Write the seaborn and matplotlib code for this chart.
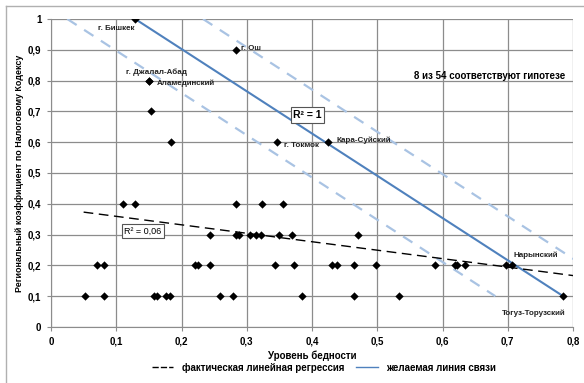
import numpy as np
import pandas as pd
import matplotlib
matplotlib.use("Agg")
import matplotlib.pyplot as plt
from matplotlib.ticker import FuncFormatter, MultipleLocator
from matplotlib.lines import Line2D
import seaborn as sns

# poverty level (x) and regional tax coefficient (y)
poverty = [0.129, 0.284, 0.150, 0.150, 0.153, 0.184, 0.347, 0.424,
           0.110, 0.128, 0.283, 0.323, 0.355,
           0.243, 0.283, 0.288, 0.305, 0.314, 0.322, 0.349, 0.369, 0.470,
           0.070, 0.081, 0.220, 0.226, 0.243, 0.344, 0.372, 0.430, 0.439,
           0.465, 0.498, 0.588, 0.619, 0.622, 0.634, 0.697, 0.707,
           0.052, 0.081, 0.158, 0.162, 0.177, 0.182, 0.259, 0.279, 0.385,
           0.465, 0.533, 0.785]
coef = [1.0, 0.9, 0.8, 0.8, 0.7, 0.6, 0.6, 0.6,
        0.4, 0.4, 0.4, 0.4, 0.4,
        0.3, 0.3, 0.3, 0.3, 0.3, 0.3, 0.3, 0.3, 0.3,
        0.2, 0.2, 0.2, 0.2, 0.2, 0.2, 0.2, 0.2, 0.2,
        0.2, 0.2, 0.2, 0.2, 0.2, 0.2, 0.2, 0.2,
        0.1, 0.1, 0.1, 0.1, 0.1, 0.1, 0.1, 0.1, 0.1,
        0.1, 0.1, 0.1]

# fitted regression line (endpoints)
reg_x = [0.05, 0.8]
reg_y = [0.373, 0.167]

# desired relationship line and its band
want_x = [0.129, 0.785]
want_y = [1.0, 0.1]
band_shift = 0.104

# labelled districts: (text, x, y, ha, va)
labels = [
    ("г. Бишкек", 0.128, 0.968, "right", "center"),
    ("г. Ош", 0.291, 0.905, "left", "center"),
    ("г. Джалал-Абад", 0.161, 0.827, "center", "center"),
    ("Аламединский", 0.162, 0.79, "left", "center"),
    ("г. Токмок", 0.357, 0.59, "left", "center"),
    ("Кара-Суйский", 0.438, 0.605, "left", "center"),
    ("Нарынский", 0.743, 0.233, "center", "center"),
    ("Тогуз-Торузский", 0.74, 0.043, "center", "center"),
]

df = pd.DataFrame({"poverty": poverty, "coef": coef})

plt.rcParams['font.family'] = ['Liberation Sans', 'DejaVu Sans']
fig = plt.figure(figsize=(5.84, 3.83), dpi=100)
ax = fig.add_axes([51 / 584, 1 - 327 / 383, 522 / 584, 308 / 383])

# desired line band
wx = np.array(want_x)
for s in (-band_shift, band_shift):
    ax.plot(wx + s, want_y, color="#a9c3e3", lw=1.6, ls=(0, (5, 4)), zorder=2)
ax.plot(want_x, want_y, color="#4f81bd", lw=1.5, zorder=3)
ax.plot(reg_x, reg_y, color="black", lw=1.0, ls=(0, (7, 4)), zorder=3)

sns.scatterplot(data=df, x="poverty", y="coef", marker="D", color="black",
                s=18, edgecolor="black", linewidth=0, ax=ax, zorder=4)

ax.set_xlim(0, 0.8)
ax.set_ylim(0, 1.0)
ax.xaxis.set_major_locator(MultipleLocator(0.1))
ax.yaxis.set_major_locator(MultipleLocator(0.1))
fmt = FuncFormatter(lambda v, p: ("%g" % round(v, 2)).replace(".", ","))
ax.xaxis.set_major_formatter(fmt)
ax.yaxis.set_major_formatter(fmt)
ax.grid(True, color="#8c8c8c", lw=0.9)
ax.set_axisbelow(True)
for side in ("top", "right"):
    ax.spines[side].set_visible(False)
for side in ("left", "bottom"):
    ax.spines[side].set_color("#8c8c8c")
ax.tick_params(length=3, color="#8c8c8c", labelsize=7, pad=4)
for t in ax.get_xticklabels() + ax.get_yticklabels():
    t.set_fontweight("bold")

ax.set_xlabel("Уровень бедности", fontsize=7, fontweight="bold", labelpad=3)
ax.set_ylabel("Региональный коэффициент по Налоговому Кодексу",
              fontsize=6.4, fontweight="bold", labelpad=3)

for text, x, y, ha, va in labels:
    ax.text(x, y, text, fontsize=5.8, fontweight="bold", ha=ha, va=va,
            color="#222222", zorder=5)

ax.text(0.672, 0.815, "8 из 54 соответствуют гипотезе", fontsize=7,
        fontweight="bold", ha="center", va="center")
ax.text(0.393, 0.688, "R² = 1", fontsize=7.5, fontweight="bold",
        ha="center", va="center", zorder=5,
        bbox=dict(boxstyle="square,pad=0.25", fc="white", ec="#555555", lw=0.8))
ax.text(0.141, 0.312, "R² = 0,06", fontsize=6.5, ha="center", va="center",
        zorder=5,
        bbox=dict(boxstyle="square,pad=0.25", fc="white", ec="#555555", lw=0.8))

handles = [Line2D([], [], color="black", lw=1.0, ls=(0, (4.5, 1.5))),
           Line2D([], [], color="#4f81bd", lw=1.0)]
fig.legend(handles, ["фактическая линейная регрессия", "желаемая линия связи"],
           loc="center", bbox_to_anchor=(0.555, 0.04), ncol=2, frameon=False,
           prop={"size": 7, "weight": "bold"}, handlelength=2.2,
           handletextpad=0.9, columnspacing=1.2)

# outer chart frame (top and left edges visible)
fig.add_artist(Line2D([6 / 584, 1], [1 - 6 / 383, 1 - 6 / 383],
                      color="#b0b0b0", lw=1))
fig.add_artist(Line2D([6 / 584, 6 / 584], [0, 1 - 6 / 383],
                      color="#b0b0b0", lw=1))

fig.savefig("out.png", dpi=100)
